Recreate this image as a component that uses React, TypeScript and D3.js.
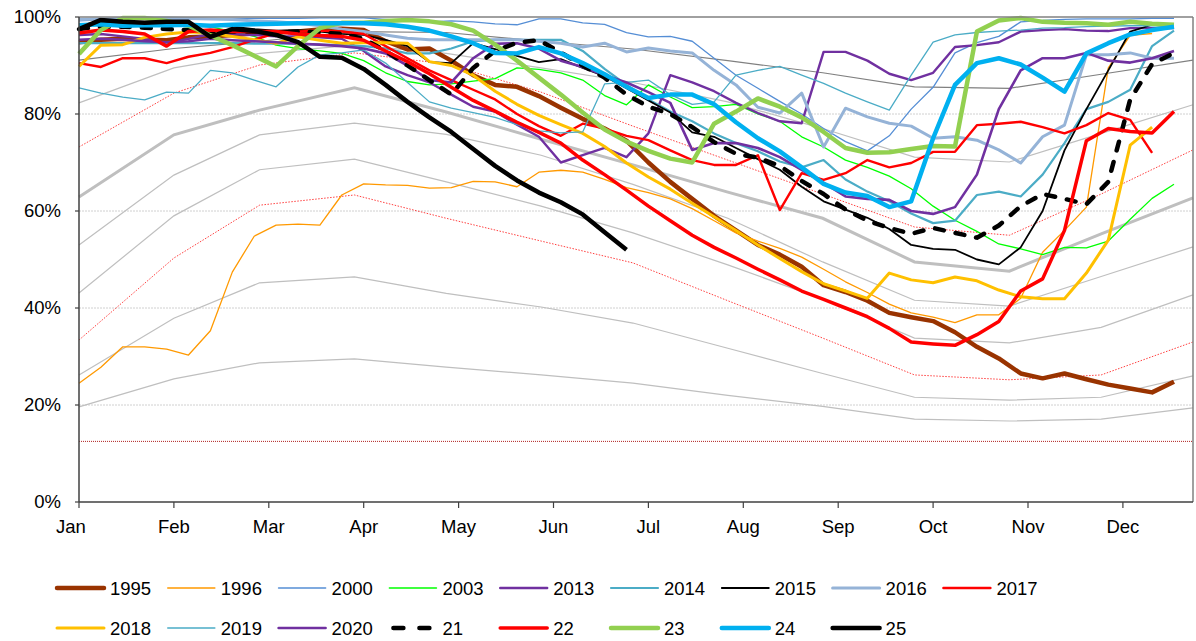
import * as d3 from 'd3';

const WIDTH = 1196;
const HEIGHT = 641;
const plot = { left: 79, right: 1193, top: 17, bottom: 502 };
const FONT = '"Liberation Sans", Arial, sans-serif';

const monthLabels = ['Jan', 'Feb', 'Mar', 'Apr', 'May', 'Jun', 'Jul', 'Aug', 'Sep', 'Oct', 'Nov', 'Dec'];
const yTickValues = [0, 20, 40, 60, 80, 100];

// background bands: one value on the first of each month (day of year)
const bandDays = [0, 31, 59, 90, 120, 151, 181, 212, 243, 273, 304, 334, 364];
const bandTop = [91.1, 93.5, 95, 97, 96.8, 95, 93.4, 91, 88.5, 85.6, 85.3, 88.2, 91.1];
const bandHigh = [82.3, 89.5, 92.5, 94.2, 92.5, 89.5, 86.5, 82.5, 77, 71.1, 70.1, 76, 81.9];
const bandRedHigh = [73.2, 84.3, 90.1, 92.6, 90.3, 84.5, 77.5, 70.5, 63.5, 56.7, 55, 63.5, 72.6];
const bandMedian = [62.9, 75.7, 80.8, 85.4, 80.4, 74.8, 69.5, 63.9, 58.5, 49.5, 47.6, 55.3, 62.7];
const bandMidLow = [53, 67.4, 75.7, 78.1, 75.8, 71.5, 65.5, 58.5, 49.5, 41.6, 40.4, 46.5, 52.6];
const bandLow = [43.1, 59, 68.5, 70.7, 66, 61, 55.5, 48.9, 41.8, 33.8, 32.8, 36, 42.7];
const bandRedLow = [33.4, 50.3, 61.2, 63.3, 58.5, 53.8, 49.3, 41.5, 33.8, 26.2, 25.2, 26.2, 33];
const bandLower = [26.2, 37.9, 45.2, 46.4, 43, 40.2, 36.9, 31.7, 26.5, 21.6, 21, 21.6, 26];
const bandMin = [19.6, 25.4, 28.7, 29.5, 27.8, 26.2, 24.5, 22, 19.7, 17.1, 16.7, 17.1, 19.4];
const floorLevel = 12.5;

// weekly fill level (%), week 0 = first week of January
const y1995 = [94.8, 95.3, 95.5, 95.3, 95.2, 95.8, 96, 96.3, 96.6, 96.8, 97, 97.4, 97.6, 97.3, 95, 93.3, 93.5, 91, 88, 86, 85.6, 83.7, 81.3, 79, 77, 74.5, 70, 66, 62.5, 59, 56, 53, 51, 48.5, 44.7, 43.3, 41.5, 39, 38.1, 37.3, 35, 32, 29.6, 26.5, 25.5, 26.5, 25.3, 24.2, 23.4, 22.6, 24.8];
const y1996 = [24.5, 27.8, 32, 32, 31.5, 30.3, 35.3, 47.4, 54.8, 57.1, 57.3, 57.1, 63.3, 65.6, 65.4, 65.3, 64.7, 64.8, 66.1, 66, 65, 68, 68.4, 68, 66.5, 64.8, 63.8, 62.5, 60.5, 58, 55.5, 53.8, 52.3, 50.5, 48, 45.4, 43.2, 40.8, 39, 38.1, 37, 38.6, 38.6, 42, 51.5, 56, 60.8, 89.5, 96.2, 96.6];
const y2000 = [99.2, 99.4, 99.5, 99.5, 99.6, 99.6, 99.6, 99.7, 99.7, 99.7, 99.7, 99.8, 99.8, 99.8, 99.5, 99.3, 99, 99.2, 99, 98.6, 98.4, 99.6, 99.6, 98.8, 98.5, 96.8, 95.9, 96, 95, 91.5, 88, 85.3, 82.6, 80, 77, 74.3, 72.4, 75.5, 81, 85.5, 92.6, 94.7, 96, 99, 99.3, 99.5, 99.6, 99.6, 99.6, 99.7, 99.7];
const y2003 = [98, 99, 99.5, 99.7, 99.3, 98.8, 98, 97, 96, 94.2, 93.5, 93, 92.5, 91, 88.5, 86.7, 86, 86.2, 86.8, 87.3, 89.5, 89.2, 88.5, 87, 83.8, 81.9, 86, 83.5, 81.3, 81.5, 82, 80, 78.5, 75.3, 73.2, 70.5, 69, 67.2, 64.6, 61, 58.1, 55.8, 53.2, 52.2, 51, 52.5, 52.4, 53.8, 58.3, 62.6, 65.5];
const y2013 = [96.3, 96.5, 96, 95.5, 94.6, 95.5, 96.5, 96.5, 96.3, 96, 96, 95.8, 95.5, 93, 89.8, 88, 86.5, 84, 81.5, 80.5, 77.8, 75.3, 70, 71.5, 73, 71.1, 76, 88, 86.5, 84.7, 82.3, 80.2, 78.5, 78.1, 92.8, 92.8, 91, 88.3, 87, 88.5, 93.8, 94.2, 94.8, 97, 97.3, 97.5, 97.2, 97.1, 97.7, 97.7, 97.7];
const y2014 = [94.6, 94.6, 94.6, 94.6, 94.6, 94.6, 94.6, 94.6, 94.5, 94.5, 94.5, 94.3, 94.2, 94, 93.5, 92.5, 92.5, 93.5, 95, 95.3, 95.3, 95.3, 95.3, 93, 89.3, 86, 83, 80.5, 78.5, 76, 74, 72.3, 70.2, 69, 70.5, 66.5, 64, 62, 59.5, 57.5, 58, 63.3, 64, 63, 67.5, 74, 81, 82.5, 85, 94, 97.2];
const y2015 = [98.5, 98.8, 98.8, 98.8, 98.7, 98.5, 98.3, 98, 97.5, 97.2, 97.3, 97, 96.5, 96.3, 95.3, 94, 90.7, 90.5, 94.6, 93.4, 92, 90.7, 91.3, 89.5, 87.8, 85.3, 82.8, 80.3, 76.2, 75.3, 73, 70.7, 68.5, 65, 62, 60.3, 58.6, 56.3, 53, 52.2, 52, 50, 49, 52.5, 60, 72.5, 81, 89, 97, 98.4, 98];
const y2016 = [99.5, 99.6, 99.7, 99.8, 99.8, 99.7, 99.6, 99.5, 99.2, 99, 98.7, 98.2, 97.5, 97, 96.3, 95.6, 95.3, 95.3, 95.3, 95.3, 95.3, 95, 94.6, 93.8, 94.6, 92.8, 93.6, 93, 92.6, 89, 86, 81.4, 80.2, 84.3, 73.2, 81.2, 79.4, 78.1, 77.5, 75, 75.3, 74.6, 72.6, 69.9, 75.3, 77.7, 92.2, 92.2, 92.6, 91.5, 91.5];
const y2017 = [90.5, 89.7, 91.5, 91.5, 90.5, 91.8, 92.6, 93.8, 95.3, 96.7, 97, 97.2, 97, 96.5, 94, 91.5, 89, 87, 85, 83, 80, 77.5, 75.5, 78, 77, 75.5, 74.6, 72.5, 70.5, 69.5, 69.5, 71.5, 60.2, 67.8, 66.4, 67.8, 70.5, 69, 69.9, 72.2, 72.2, 77.7, 78, 78.4, 77.3, 76, 77.7, 80.2, 78.8, 72];
const y2018 = [89.8, 94.2, 94.3, 95.8, 96.5, 96.9, 96.7, 96, 95.3, 94.6, 95.9, 95.2, 94.6, 94.7, 94.7, 94.6, 90.8, 90, 88, 84.7, 82, 79.7, 77.8, 76, 73.3, 69.9, 67, 64.5, 61.6, 58.8, 56, 53, 50.2, 47.5, 45, 43.5, 42, 47.2, 45.8, 45.2, 46.4, 45.6, 43.7, 42.3, 41.9, 41.9, 47.2, 54, 73.6, 77.3];
const y2019 = [85.4, 84.3, 83.5, 82.9, 84.5, 84.3, 89, 88.5, 87, 85.6, 89.7, 92.2, 92.6, 93.2, 90.5, 86.5, 82.5, 81.2, 80.3, 79.3, 77.8, 76.5, 76.1, 76.3, 86.2, 86.5, 87, 84, 82, 82.5, 88, 89, 89.8, 88, 86.3, 84.3, 82.5, 80.8, 88, 94.8, 96.3, 96.8, 97.1, 97.3, 97.7, 97.8, 98, 98.1, 98.2, 98.2, 98.2];
const y2020 = [95.3, 95.5, 95.3, 95, 94.8, 95, 95.5, 95.2, 95, 94.8, 94.5, 94.3, 94, 93.5, 92.5, 90, 87, 86.5, 91.5, 94.5, 94.6, 93.5, 91, 89.7, 88, 86.5, 84.5, 82.3, 72.6, 74, 74, 73, 71.1, 68.5, 65.8, 63, 62.5, 62.3, 60, 59.4, 60.8, 67.5, 81, 89, 91.5, 91.5, 92.6, 91, 90.6, 91.5, 93];
const y21 = [97.5, 98, 98, 97.8, 97.5, 97.3, 97, 97, 97, 96.8, 97, 96.8, 96.5, 95.5, 93, 90, 87, 84, 89.5, 93, 94.7, 95.2, 92.7, 90, 87.5, 84, 81.5, 80, 77.3, 74.2, 71.8, 71, 69.3, 66.2, 63.5, 60.3, 58, 56.5, 55.3, 56.5, 55.5, 54.5, 57, 61, 63.5, 62.5, 61.4, 66, 83, 90.3, 92.6];
const y22 = [96.7, 97.3, 97, 96.5, 94, 97, 97.3, 97, 97, 97, 96.5, 96.2, 96, 95.2, 93, 90.8, 88.3, 85.5, 82.8, 80.6, 78.3, 76.2, 74, 70.5, 67.5, 64.3, 61, 58, 55, 52.5, 50.3, 48, 45.8, 43.5, 41.8, 40, 38.2, 35.8, 33, 32.6, 32.3, 34.5, 37.2, 43.5, 46, 56, 74.5, 77, 76.4, 76.1, 80.5];
const y23 = [92.4, 97.3, 99.8, 99.8, 99.2, 98.2, 96.2, 94.2, 92, 89.8, 94, 97.7, 98.8, 98.8, 99.2, 99.4, 99.1, 98.5, 97.2, 94.3, 91, 87.5, 84, 80.3, 76.8, 74.3, 72.4, 70.8, 70, 78, 80.5, 83.2, 81.5, 79.3, 76.3, 73, 72, 72.1, 72.8, 73.4, 73.3, 97, 99.3, 99.8, 99, 98.8, 98.7, 98.4, 99, 98.6, 98.4];
const y24 = [98.3, 98.5, 98.2, 98.3, 98.3, 98.4, 98.2, 98.4, 98.5, 98.6, 98.7, 98.7, 98.7, 98.7, 98.5, 98, 97.2, 96, 94.6, 92.6, 92.5, 93.8, 92.5, 90.5, 88.2, 85.6, 83.3, 84, 84, 82, 78.3, 75, 72.3, 69, 65.6, 63.8, 63.1, 60.8, 62, 75, 86, 90.5, 91.5, 90.2, 87.5, 84.6, 92.5, 94.6, 96.4, 97.3, 98];
const y25 = [97.5, 99.4, 99, 98.8, 99, 99, 95.9, 97.5, 97.1, 96.3, 94.8, 91.8, 91.6, 89.3, 86, 82.5, 79.3, 76.3, 72.8, 69.3, 66.3, 63.8, 61.8, 59.3, 55.6, 52];

interface Series {
  name: string;
  values: number[];
  color: string;
  width: number;
  dash?: string;
}

const series: Series[] = [
  { name: '1995', values: y1995, color: '#993300', width: 4.5 },
  { name: '1996', values: y1996, color: '#FF9900', width: 1.3 },
  { name: '2000', values: y2000, color: '#558ED5', width: 1.3 },
  { name: '2003', values: y2003, color: '#00FF00', width: 1.3 },
  { name: '2013', values: y2013, color: '#7030A0', width: 2.4 },
  { name: '2014', values: y2014, color: '#4BACC6', width: 2.2 },
  { name: '2015', values: y2015, color: '#000000', width: 1.8 },
  { name: '2016', values: y2016, color: '#95B3D7', width: 3 },
  { name: '2017', values: y2017, color: '#FF0000', width: 2.4 },
  { name: '2018', values: y2018, color: '#FFC000', width: 3 },
  { name: '2019', values: y2019, color: '#4BACC6', width: 1.3 },
  { name: '2020', values: y2020, color: '#7030A0', width: 2.6 },
  { name: '21', values: y21, color: '#000000', width: 4.5, dash: '9 12' },
  { name: '22', values: y22, color: '#FF0000', width: 3.5 },
  { name: '23', values: y23, color: '#92D050', width: 4.5 },
  { name: '24', values: y24, color: '#00B0F0', width: 4.5 },
  { name: '25', values: y25, color: '#000000', width: 4.5 },
];

const bands = [
  { values: bandMin, color: '#BFBFBF', width: 1.2 },
  { values: bandLower, color: '#BFBFBF', width: 1.2 },
  { values: bandRedLow, color: '#FF4040', width: 1, dash: '1.5 1.5' },
  { values: bandLow, color: '#BFBFBF', width: 1.2 },
  { values: bandMidLow, color: '#BFBFBF', width: 1.2 },
  { values: bandMedian, color: '#BFBFBF', width: 3 },
  { values: bandRedHigh, color: '#FF4040', width: 1, dash: '1.5 1.5' },
  { values: bandHigh, color: '#BFBFBF', width: 1.2 },
  { values: bandTop, color: '#808080', width: 1.2 },
];

export default function App() {
  const xDay = d3.scaleLinear().domain([0, 364]).range([plot.left, plot.right]);
  // weekly readings sit 21.9px apart in the original
  const xWeek = d3.scaleLinear().domain([0, (plot.right - plot.left) / 21.9]).range([plot.left, plot.right]);
  const yScale = d3.scaleLinear().domain([0, 100]).range([plot.bottom, plot.top]);
  const monthX = (m: number) => xWeek((m * 52) / 12);

  const weekLine = d3.line<number>()
    .x((_, i) => xWeek(i))
    .y((v) => yScale(v));
  const bandLine = d3.line<number>()
    .x((_, i) => xDay(bandDays[i]))
    .y((v) => yScale(v));

  const legendRows = [series.slice(0, 9), series.slice(9)];
  const colStep = 110.8;

  return (
    <svg
      width={WIDTH}
      height={HEIGHT}
      viewBox={`0 0 ${WIDTH} ${HEIGHT}`}
      style={{ position: 'absolute', left: 0, top: 0, background: '#fff' }}
      fontFamily={FONT}
    >
      {yTickValues.filter((t) => t > 0 && t < 100).map((t) => (
        <line key={`g-${t}`} x1={plot.left} x2={plot.right} y1={yScale(t)} y2={yScale(t)} stroke="#D0D0D0" strokeWidth={1} strokeDasharray="2 1" />
      ))}

      {bands.map((b, i) => (
        <path key={`band-${i}`} d={bandLine(b.values) ?? undefined} fill="none" stroke={b.color} strokeWidth={b.width} strokeDasharray={b.dash} />
      ))}
      <line x1={plot.left} x2={plot.right} y1={yScale(floorLevel)} y2={yScale(floorLevel)} stroke="#B02020" strokeWidth={1} strokeDasharray="1 1" />

      {series.map((s) => (
        <path
          key={s.name}
          d={weekLine(s.values) ?? undefined}
          fill="none"
          stroke={s.color}
          strokeWidth={s.width}
          strokeDasharray={s.dash}
          strokeLinejoin="round"
          strokeLinecap={s.dash ? 'round' : 'butt'}
        />
      ))}

      {/* frame */}
      <line x1={plot.left} x2={plot.right} y1={plot.top} y2={plot.top} stroke="#808080" strokeWidth={1.5} />
      <line x1={plot.right} x2={plot.right} y1={plot.top} y2={plot.bottom} stroke="#808080" strokeWidth={1.5} />
      <line x1={plot.left} x2={plot.left} y1={plot.top} y2={plot.bottom} stroke="#404040" strokeWidth={1.5} />
      <line x1={plot.left} x2={plot.right} y1={plot.bottom} y2={plot.bottom} stroke="#404040" strokeWidth={1.5} />

      {yTickValues.map((t) => (
        <g key={`y-${t}`}>
          <line x1={plot.left - 4} x2={plot.left} y1={yScale(t)} y2={yScale(t)} stroke="#404040" strokeWidth={1.2} />
          <text x={plot.left - 18} y={yScale(t)} dy="0.35em" textAnchor="end" fontSize={18.5} fill="#000">{`${t}%`}</text>
        </g>
      ))}

      {monthLabels.map((label, m) => (
        <g key={label}>
          <line x1={monthX(m)} x2={monthX(m)} y1={plot.bottom} y2={plot.bottom + 6} stroke="#404040" strokeWidth={1.2} />
          <text x={m === 0 ? monthX(m) - 8 : monthX(m)} y={plot.bottom + 31} textAnchor="middle" fontSize={18.5} fill="#000">{label}</text>
        </g>
      ))}

      {legendRows.map((row, r) => (
        <g key={`row-${r}`} transform={`translate(0, ${588 + r * 40})`}>
          {row.map((s, c) => {
            const x0 = 57 + c * colStep;
            return (
              <g key={s.name}>
                <line
                  x1={s.dash ? x0 + 4 : x0}
                  x2={x0 + 47}
                  y1={0}
                  y2={0}
                  stroke={s.color}
                  strokeWidth={Math.max(s.width, 1.6)}
                  strokeDasharray={s.dash ? '10 16' : undefined}
                  strokeLinecap="round"
                />
                <text x={x0 + 53} y={0} dy="0.36em" fontSize={18.5} fill="#000">{s.name}</text>
              </g>
            );
          })}
        </g>
      ))}
    </svg>
  );
}
